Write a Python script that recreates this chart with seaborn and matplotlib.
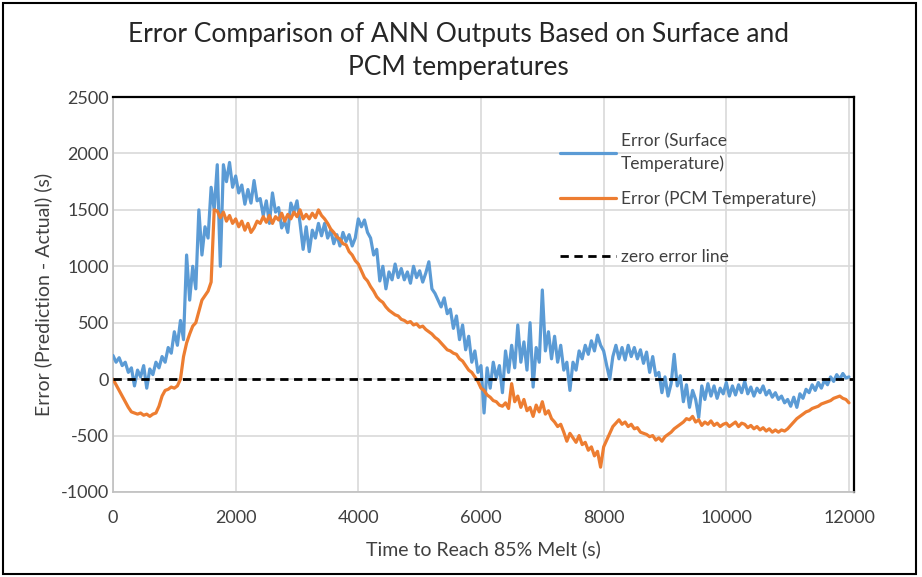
import numpy as np
import pandas as pd
import matplotlib
matplotlib.use("Agg")
import matplotlib.pyplot as plt
from matplotlib.patches import Rectangle
import seaborn as sns

# ---------------- data ----------------
time_s = list(range(0, 12001, 50))

err_surface = [
    210, 150, 190, 120, 150, 60, 100, -60, 80, 20,
    120, -80, 90, 40, 150, 100, 200, 150, 280, 230,
    420, 300, 520, 350, 1100, 700, 1000, 800, 1500, 1100,
    1350, 1250, 1700, 1500, 1900, 1000, 1900, 1750, 1920, 1700,
    1800, 1650, 1720, 1550, 1680, 1560, 1760, 1580, 1600, 1450,
    1580, 1380, 1650, 1480, 1520, 1340, 1400, 1300, 1560, 1480,
    1580, 1380, 1150, 1350, 1130, 1320, 1250, 1380, 1270, 1380,
    1250, 1320, 1200, 1280, 1180, 1300, 1220, 1280, 1180, 1250,
    1420, 1350, 1410, 1300, 1250, 1100, 1150, 870, 1000, 800,
    950, 880, 1020, 900, 980, 880, 950, 850, 1000, 900,
    960, 860, 940, 1040, 800, 760, 700, 640, 720, 580,
    620, 450, 560, 350, 480, 260, 380, 150, 250, 60,
    120, -300, 100, -80, 150, 10, 120, -120, 250, 60,
    300, 100, 480, 150, 330, 80, 500, -70, 280, 150,
    790, 250, 420, 180, 380, 150, 300, 80, 150, -100,
    150, 80, 250, 180, 300, 220, 340, 250, 390, 300,
    250, 120, 0, 200, 300, 180, 280, 170, 300, 200,
    280, 180, 260, 140, 240, 60, 200, 30, 60, -120,
    20, -150, -40, 220, -60, 30, -200, -50, -250, -100,
    -180, -340, -60, -180, -40, -150, -60, -170, -80, -130,
    -30, -150, -60, -140, -50, -120, -20, -130, -70, -150,
    -80, -120, -60, -140, -100, -160, -120, -180, -150, -210,
    -180, -240, -160, -250, -130, -170, -90, -120, -50, -100,
    -30, -80, -10, -50, 20, -20, 40, 0, 50, 10,
    20,
]

err_pcm = [
    0, -50, -100, -150, -200, -250, -290, -300, -310, -300,
    -320, -310, -330, -310, -300, -240, -150, -100, -90, -70,
    -80, -60, 0, 200, 320, 400, 470, 500, 600, 700,
    740, 780, 860, 1500, 1490, 1430, 1480, 1400, 1450, 1380,
    1420, 1350, 1400, 1320, 1380, 1300, 1340, 1400, 1380, 1440,
    1390, 1450, 1380, 1440, 1410, 1470, 1400, 1460, 1420, 1480,
    1440, 1500, 1420, 1460, 1420, 1470, 1430, 1500, 1450, 1420,
    1380, 1330, 1300, 1260, 1240, 1200, 1190, 1130, 1100, 1050,
    1020, 960, 900, 870, 820, 780, 730, 700, 680, 640,
    610, 590, 570, 560, 530, 520, 500, 510, 480, 490,
    460, 470, 440, 420, 400, 370, 350, 320, 290, 260,
    250, 230, 220, 180, 160, 120, 80, 60, 20, -20,
    -80, -100, -140, -160, -190, -200, -230, -240, -210, -260,
    -40, -200, -150, -250, -180, -280, -250, -330, -230, -290,
    -200, -310, -280, -350, -380, -420, -400, -470, -550, -480,
    -520, -560, -500, -580, -560, -630, -600, -680, -640, -780,
    -600, -540, -480, -420, -390, -360, -400, -380, -420, -400,
    -440, -430, -470, -480, -490, -510, -500, -540, -520, -550,
    -510, -490, -470, -440, -420, -400, -380, -350, -360, -330,
    -380, -360, -410, -380, -400, -370, -410, -390, -420, -400,
    -390, -420, -400, -380, -420, -390, -400, -430, -410, -440,
    -420, -450, -430, -460, -440, -470, -450, -470, -450, -460,
    -440, -410, -380, -350, -330, -310, -290, -280, -260, -250,
    -240, -220, -210, -200, -190, -170, -160, -150, -170, -180,
    -210,
]

zero_x = [0, 12082]
zero_y = [0, 0]

labels = ["Error (Surface\nTemperature)", "Error (PCM Temperature)", "zero error line"]
x_ticks = [0, 2000, 4000, 6000, 8000, 10000, 12000]
y_ticks = [-1000, -500, 0, 500, 1000, 1500, 2000, 2500]
title = "Error Comparison of ANN Outputs Based on Surface and\nPCM temperatures"
x_label = "Time to Reach 85% Melt (s)"
y_label = "Error (Prediction - Actual) (s)"

# ---------------- style ----------------
sns.set_theme(style="white")
plt.rcParams["font.family"] = ["Lato", "DejaVu Sans"]
plt.rcParams["axes.unicode_minus"] = False

W, H = 922, 577
fig = plt.figure(figsize=(W / 100, H / 100), dpi=100)
ax_l, ax_r, ax_t, ax_b = 113, 854, 97, 492
ax = fig.add_axes([ax_l / W, 1 - ax_b / H, (ax_r - ax_l) / W, (ax_b - ax_t) / H])

df_s = pd.DataFrame({"t": time_s, "e": err_surface})
df_p = pd.DataFrame({"t": time_s, "e": err_pcm})

sns.lineplot(data=df_s, x="t", y="e", ax=ax, color="#5B9BD5", lw=2.3,
             label=labels[0], zorder=3)
sns.lineplot(data=df_p, x="t", y="e", ax=ax, color="#ED7D31", lw=2.3,
             label=labels[1], zorder=4)
ax.plot(zero_x, zero_y, color="black", lw=2.0, ls=(0, (3, 2)),
        label=labels[2], zorder=5, clip_on=False)

ax.set_xlim(0, 12082)
ax.set_ylim(-1000, 2500)
ax.set_xticks(x_ticks)
ax.set_yticks(y_ticks)
ax.tick_params(axis="both", length=0, labelsize=13, colors="#404040")
ax.tick_params(axis="x", pad=13)
ax.tick_params(axis="y", pad=3)
ax.grid(True, color="#D9D9D9", lw=1.2)
ax.set_axisbelow(True)

for side in ["left", "bottom"]:
    ax.spines[side].set_color("#BFBFBF")
    ax.spines[side].set_linewidth(1.2)
for side in ["top", "right"]:
    ax.spines[side].set_color("black")
    ax.spines[side].set_linewidth(1.6)

ax.set_xlabel(x_label, fontsize=14, color="#404040", labelpad=10)
ax.set_ylabel(y_label, fontsize=14, color="#404040", labelpad=6)


def axfrac(px, py):
    return ((px - ax_l) / (ax_r - ax_l), 1 - (py - ax_t) / (ax_b - ax_t))


handles, _ = ax.get_legend_handles_labels()
leg1 = ax.legend(handles[:2], labels[:2], loc="upper left", bbox_to_anchor=axfrac(560, 133),
                 frameon=False, fontsize=12.5, handlelength=3.2, labelspacing=1.1,
                 handletextpad=0.3, borderaxespad=0, borderpad=0)
for t in leg1.get_texts():
    t.set_linespacing(1.45)
ax.add_artist(leg1)
leg2 = ax.legend(handles[2:], labels[2:], loc="upper left", bbox_to_anchor=axfrac(560, 249),
                 frameon=False, fontsize=12.5, handlelength=3.2,
                 handletextpad=0.3, borderaxespad=0, borderpad=0)
for lg in (leg1, leg2):
    for t in lg.get_texts():
        t.set_color("#404040")

fig.text(458 / W, 1 - 51 / H, title, ha="center", va="center", fontsize=19,
         color="#262626", linespacing=1.4)

fig.patches.append(Rectangle((3 / W, 3 / H), 913 / W, 571 / H, transform=fig.transFigure,
                             fill=False, edgecolor="black", lw=1.5))

fig.savefig("out.png", dpi=100)
